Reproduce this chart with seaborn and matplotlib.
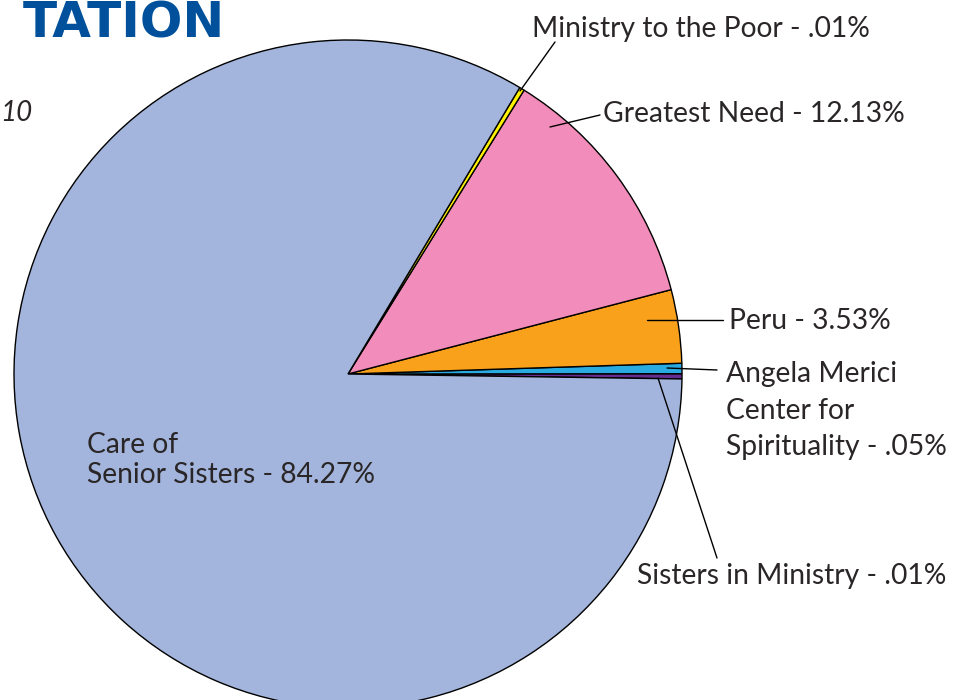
import numpy as np
import seaborn as sns
import matplotlib.pyplot as plt

sns.set_theme(style="white")
plt.rcParams['font.family'] = ['Lato', 'DejaVu Sans']

# ---- Data ----
# slice order goes counter-clockwise from the purple sliver on the right
funds = [
    'Sisters in Ministry',
    'Angela Merici Center for Spirituality',
    'Peru',
    'Greatest Need',
    'Ministry to the Poor',
    'Care of Senior Sisters',
]
# shares as drawn in the picture (tiny slices are drawn wider than their label)
shares = [0.25, 0.5, 3.55, 12.1, 0.24, 83.36]
label_pct = ['.01%', '.05%', '3.53%', '12.13%', '.01%', '84.27%']
label_names = [
    'Sisters in Ministry',
    'Angela Merici\nCenter for\nSpirituality',
    'Peru',
    'Greatest Need',
    'Ministry to the Poor',
    'Care of\nSenior Sisters',
]
colors = ['#662D91', '#29ABE2', '#F9A11B', '#F28CBA', '#FFF200', '#A3B5DC']

# ---- Layout (pixels) ----
W, H = 963, 700
cx, cy, R = 348, 374, 334

fig = plt.figure(figsize=(W / 100, H / 100), dpi=100)
ax = fig.add_axes([(cx - R) / W, (H - cy - R) / H, 2 * R / W, 2 * R / H])

wedges, _ = ax.pie(shares, colors=colors, startangle=-0.85, counterclock=True,
                   wedgeprops=dict(edgecolor='black', linewidth=1.0))
for w in wedges:
    w.set_clip_on(False)
ax.set_aspect('auto')
ax.set_xlim(-1, 1)
ax.set_ylim(-1, 1)
ax.axis('off')


def to_data(x, y):
    return (x - cx) / R, (cy - y) / R


# label anchor: left x, baseline of first line, line pitch
label_pos = [(637, 584, 0), (726, 382, 36.7), (729, 329, 0),
             (603, 122, 0), (532, 37, 0), (87, 453, 30)]
leaders = [
    [(658, 378), (717, 558)],
    [(667, 368), (717, 370)],
    [(647, 320), (723, 320)],
    [(550, 127), (600, 115)],
    [(520, 91), (555, 42)],
    None,
]

text_color = '#2A2627'
for name, pct, pos, lead in zip(label_names, label_pct, label_pos, leaders):
    lines = f'{name} - {pct}'.split('\n')
    for i, line in enumerate(lines):
        ax.text(*to_data(pos[0], pos[1] + i * pos[2]), line,
                ha='left', va='baseline', fontsize=20.3, color=text_color,
                clip_on=False)
    if lead is not None:
        (x0, y0), (x1, y1) = to_data(*lead[0]), to_data(*lead[1])
        ax.plot([x0, x1], [y0, y1], color='black', linewidth=1.0, clip_on=False)

# cut-off heading pieces from the page
fig.text(225 / W, 1 - 37 / H, 'TATION', ha='right', va='baseline',
         fontsize=36, fontweight='bold', fontfamily=['DejaVu Sans'], color='#00509B')
fig.text(0 / W, 1 - 121 / H, '10', ha='left', va='baseline',
         fontsize=20, style='italic', color=text_color)

fig.savefig('out.png', dpi=100)
